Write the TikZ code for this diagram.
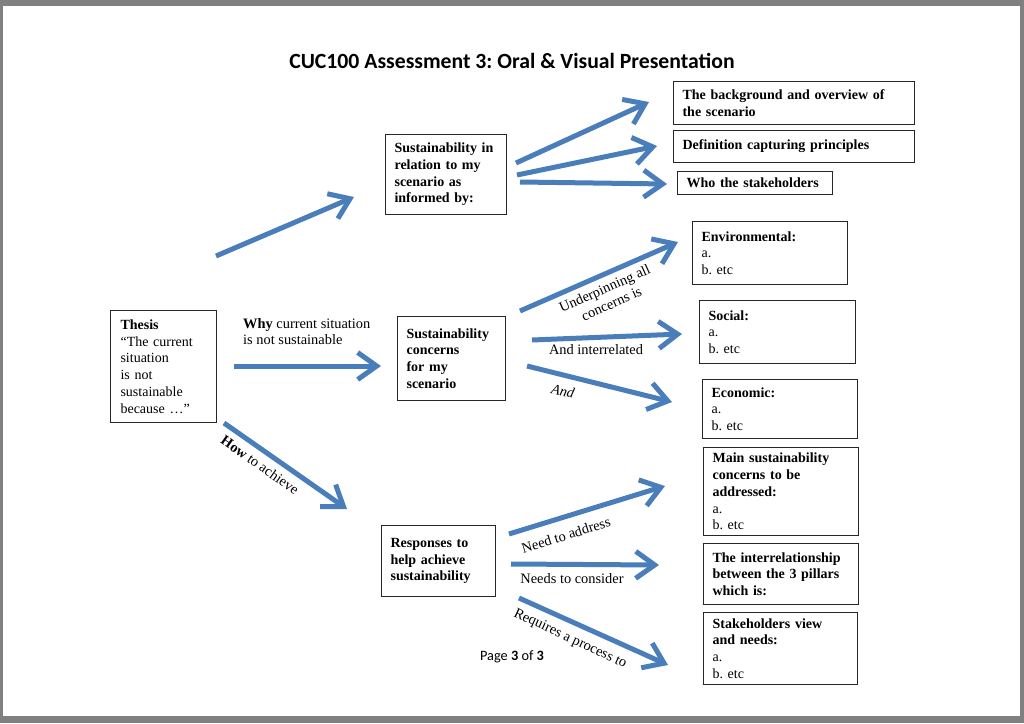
\documentclass[tikz,border=0pt]{standalone}
\usepackage{fontspec}
\setmainfont{Liberation Serif}
\newfontfamily\calfont{Carlito}
\usetikzlibrary{arrows.meta}
\definecolor{arrowblue}{RGB}{74,126,187}
\definecolor{pagegray}{RGB}{128,128,128}
\frenchspacing
\hyphenpenalty=10000
\exhyphenpenalty=10000
\begin{document}
\begin{tikzpicture}[x=1pt,y=-1pt,
  box/.style={draw=black!85, line width=1.1pt, anchor=north west, align=left,
    inner xsep=9pt, inner ysep=0pt,
    font=\fontsize{14.0}{16.7}\selectfont},
  flow/.style={draw=arrowblue, line width=5pt, -{Straight Barb[length=19pt,width=27pt]}},
  lbl/.style={font=\fontsize{14.4}{16.7}\selectfont, inner sep=0pt, align=left}]
\useasboundingbox (0,0) rectangle (1024,723);
\fill[pagegray] (0,0) rectangle (1024,723);
\fill[white] (3,6) rectangle (1020,716);

% title and footer
\node[inner sep=0pt, font=\calfont\bfseries\fontsize{21.7}{24}\selectfont] (title) at (512,61)
  {CUC100 Assessment 3: Oral \& Visual Presentation};
\node[inner sep=0pt, font=\calfont\fontsize{14.3}{16}\selectfont] (page) at (512,657)
  {Page \textbf{3} of \textbf{3}};

% boxes
\node[box, minimum width=106, minimum height=112, inner xsep=10pt, text width=86] (thesis) at (110,310)
  {\textbf{Thesis}\\``The current\\situation\\is not\\sustainable\\because \dots''};
\node[box, minimum width=121, minimum height=80, text width=103] (informed) at (385,134)
  {\textbf{Sustainability in}\\\textbf{relation to my}\\\textbf{scenario as}\\\textbf{informed by:}};
\node[box, minimum width=108, minimum height=84, text width=90] (concerns) at (397,316)
  {\textbf{Sustainability}\\\textbf{concerns}\\\textbf{for my}\\\textbf{scenario}};
\node[box, minimum width=114, minimum height=71, text width=96] (responses) at (381,525)
  {\textbf{Responses to}\\\textbf{help achieve}\\\textbf{sustainability}};

\node[box, minimum width=241, minimum height=43, text width=223] (bg) at (673,81)
  {\textbf{The background and overview of}\\\textbf{the scenario}};
\node[box, minimum width=241, minimum height=32, text width=223] (defn) at (673,130)
  {\textbf{Definition capturing principles}};
\node[box, minimum width=155, minimum height=23, text width=137] (who) at (677,171)
  {\textbf{Who the stakeholders}};

\node[box, minimum width=155, minimum height=63, text width=137] (env) at (692,221)
  {\textbf{Environmental:}\\a.\\b. etc};
\node[box, minimum width=156, minimum height=63, text width=138] (soc) at (699,300)
  {\textbf{Social:}\\a.\\b. etc};
\node[box, minimum width=155, minimum height=59, text width=137] (eco) at (702,379)
  {\textbf{Economic:}\\a.\\b. etc};

\node[box, minimum width=155, minimum height=88, text width=137] (main) at (703,447)
  {\textbf{Main sustainability}\\\textbf{concerns to be}\\\textbf{addressed:}\\a.\\b. etc};
\node[box, minimum width=155, minimum height=61, text width=137] (inter) at (703,543)
  {\textbf{The interrelationship}\\\textbf{between the 3 pillars}\\\textbf{which is:}};
\node[box, minimum width=154, minimum height=72, text width=136] (stake) at (703,612)
  {\textbf{Stakeholders view}\\\textbf{and needs:}\\a.\\b. etc};

% arrow end points
\coordinate (a1s) at (216,256); \coordinate (a1e) at (354,197);
\coordinate (a2s) at (234,366); \coordinate (a2e) at (381,366);
\coordinate (a3s) at (224,423); \coordinate (a3e) at (347,509);
\coordinate (b1s) at (516,163); \coordinate (b1e) at (649,102);
\coordinate (b2s) at (517,175); \coordinate (b2e) at (657,146);
\coordinate (b3s) at (520,182); \coordinate (b3e) at (667,184);
\coordinate (c1s) at (520,311); \coordinate (c1e) at (678,242);
\coordinate (c2s) at (532,340); \coordinate (c2e) at (682,334);
\coordinate (c3s) at (527,366); \coordinate (c3e) at (672,402);
\coordinate (d1s) at (509,534); \coordinate (d1e) at (665,486);
\coordinate (d2s) at (511,564); \coordinate (d2e) at (659,565);
\coordinate (d3s) at (519,598); \coordinate (d3e) at (668,665);

\foreach \p in {a1,a2,a3,b1,b2,b3,c1,c2,c3,d1,d2,d3}
  \draw[flow] (\p s) -- (\p e);

% labels
\node[lbl, anchor=west] (why) at (243,331.5) {\textbf{Why} current situation\\is not sustainable};
\node[lbl, rotate=-35] (how) at (260,465) {\textbf{How} to achieve};
\node[lbl, rotate=24, align=center] (under) at (608,296) {Underpinning all\\concerns is};
\node[lbl] (interl) at (596,350) {And interrelated};
\node[lbl, rotate=-13, font=\itshape\fontsize{14.4}{16.7}\selectfont] (and) at (563,391) {And};
\node[lbl, rotate=17] (need) at (566,535) {Need to address};
\node[lbl] (needs) at (572,579) {Needs to consider};
\node[lbl, rotate=-25] (req) at (570,639) {Requires a process to};
\end{tikzpicture}
\end{document}
